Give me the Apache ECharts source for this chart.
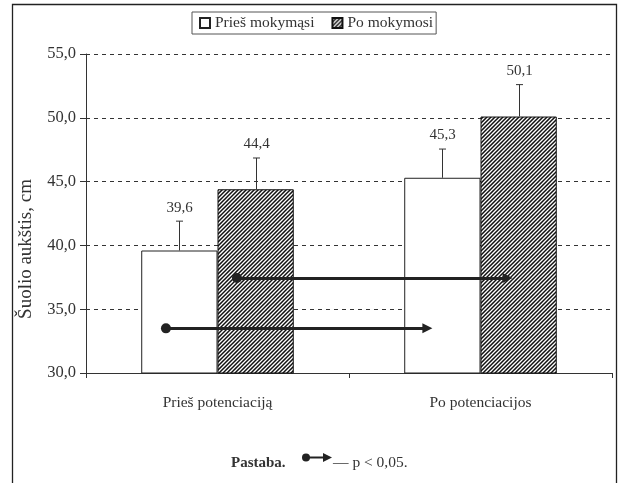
<!DOCTYPE html>
<html>
<head>
<meta charset="utf-8">
<script src="https://cdn.jsdelivr.net/npm/echarts@6/dist/echarts.min.js"></script>
<style>
  html, body { margin: 0; padding: 0; background: #fff; }
  #chart { width: 619px; height: 483px; }
</style>
</head>
<body>
<div id="chart"></div>
<script>
// Jump height before and after training, by potentiation condition
var categories = ['Prieš potenciaciją', 'Po potenciacijos'];
var seriesNames = ['Prieš mokymąsi', 'Po mokymosi'];
var beforeTraining = [39.6, 45.3];
var afterTraining = [44.4, 50.1];
var beforeSD = [2.3, 2.25];
var afterSD = [2.45, 2.5];
var yTicks = [30, 35, 40, 45, 50, 55];
var yTitle = 'Šuolio aukštis, cm';
// significance arrows: [xStart, xEnd, y] in category units (0..2) and cm
var sigArrows = [
  [0.304, 1.298, 33.5],
  [0.574, 1.603, 37.45]
];

var FONT = '"Liberation Serif", "Times New Roman", serif';
var TXT = '#333';

function fmt(v) { return v.toFixed(1).replace('.', ','); }

// diagonal hatch fill
function hatch() {
  var c = document.createElement('canvas');
  c.width = 8; c.height = 8;
  var g = c.getContext('2d');
  g.fillStyle = '#fff';
  g.fillRect(0, 0, 8, 8);
  g.strokeStyle = '#111';
  g.lineWidth = 1.5;
  for (var k = 0; k <= 16; k += 4) {
    g.beginPath();
    g.moveTo(-1, k + 1);
    g.lineTo(k + 1, -1);
    g.stroke();
  }
  return c;
}

var GAP = 0.42;
function errorSeries(vals, sds, side) {
  return {
    type: 'custom',
    xAxisIndex: 0,
    yAxisIndex: 0,
    z: 5,
    silent: true,
    data: vals.map(function (v, i) { return [i, v, sds[i]]; }),
    renderItem: function (params, api) {
      var band = api.size([1, 0])[0];
      var off = side * band * (1 - GAP) / 4;
      var base = api.coord([api.value(0), api.value(1)]);
      var top = api.coord([api.value(0), api.value(1) + api.value(2)]);
      var x = Math.round(base[0] + off) + 0.5;
      return {
        type: 'group',
        children: [
          { type: 'line', shape: { x1: x, y1: base[1], x2: x, y2: top[1] },
            style: { stroke: '#333', lineWidth: 1 } },
          { type: 'line', shape: { x1: x - 3.5, y1: top[1], x2: x + 3.5, y2: top[1] },
            style: { stroke: '#333', lineWidth: 1 } },
          { type: 'text', x: x, y: top[1] - 6,
            style: { text: fmt(api.value(1)), fill: TXT, font: '15px ' + FONT,
                     align: 'center', verticalAlign: 'bottom' } }
        ]
      };
    }
  };
}

var chart = echarts.init(document.getElementById('chart'), null, { renderer: 'canvas' });

var option = {
  animation: false,
  backgroundColor: '#fff',
  textStyle: { fontFamily: FONT, color: TXT },
  grid: { left: 86, right: 7, top: 54, bottom: 110, containLabel: false },
  legend: {
    left: 192, top: 12,
    data: seriesNames,
    icon: 'rect',
    itemWidth: 10, itemHeight: 10, itemGap: 17,
    padding: [3, 3, 3, 7],
    borderColor: '#555', borderWidth: 1,
    textStyle: { fontFamily: FONT, fontSize: 15.5, color: TXT }
  },
  xAxis: [
    {
      type: 'category',
      data: categories,
      axisLine: { lineStyle: { color: '#333', width: 1 } },
      axisTick: { show: true, length: 5, lineStyle: { color: '#333' } },
      axisLabel: { fontFamily: FONT, fontSize: 15.5, color: TXT, margin: 22 },
      splitLine: { show: false }
    },
    { type: 'value', min: 0, max: 2, show: false }
  ],
  yAxis: {
    type: 'value',
    min: yTicks[0], max: yTicks[yTicks.length - 1], interval: 5,
    axisLine: { show: true, lineStyle: { color: '#333', width: 1 } },
    axisTick: { show: true, length: 6, lineStyle: { color: '#333' } },
    axisLabel: { fontFamily: FONT, fontSize: 16.5, color: TXT, margin: 10, formatter: fmt },
    splitLine: { show: true, lineStyle: { color: '#333', type: [4, 4], width: 1 } }
  },
  series: [
    {
      name: seriesNames[0], type: 'bar',
      data: beforeTraining,
      barGap: '0%', barCategoryGap: (GAP * 100) + '%',
      itemStyle: { color: '#fff', borderColor: '#222', borderWidth: 1 }
    },
    {
      name: seriesNames[1], type: 'bar',
      data: afterTraining,
      itemStyle: { color: { image: hatch(), repeat: 'repeat' }, borderColor: '#111', borderWidth: 1 }
    },
    errorSeries(beforeTraining, beforeSD, -1),
    errorSeries(afterTraining, afterSD, 1),
    {
      type: 'line',
      xAxisIndex: 1, yAxisIndex: 0,
      data: [],
      z: 10,
      markLine: {
        silent: true,
        symbol: ['circle', 'triangle'],
        symbolSize: [10, 10],
        label: { show: false },
        lineStyle: { color: '#222', width: 3, type: 'solid' },
        itemStyle: { color: '#222' },
        data: sigArrows.map(function (a) {
          return [{ coord: [a[0], a[2]] }, { coord: [a[1], a[2]] }];
        })
      }
    }
  ],
  graphic: [
    { type: 'rect', z: 100, silent: true,
      shape: { x: 12.5, y: 4.5, width: 604, height: 500 },
      style: { fill: 'none', stroke: '#222', lineWidth: 1.3 } },
    { type: 'text', x: 26, y: 249, rotation: Math.PI / 2,
      style: { text: yTitle, font: '19px ' + FONT, fill: TXT,
               align: 'center', verticalAlign: 'middle' } },
    { type: 'text', x: 231, y: 463,
      style: { text: 'Pastaba.', font: 'bold 15px ' + FONT, fill: TXT, verticalAlign: 'middle' } },
    { type: 'circle', shape: { cx: 306, cy: 457.5, r: 4 }, style: { fill: '#222' } },
    { type: 'line', shape: { x1: 306, y1: 457.5, x2: 324, y2: 457.5 },
      style: { stroke: '#222', lineWidth: 2 } },
    { type: 'polygon', shape: { points: [[323, 453], [332, 457.5], [323, 462]] },
      style: { fill: '#222' } },
    { type: 'text', x: 333, y: 463,
      style: { text: '— p < 0,05.', font: '15.5px ' + FONT, fill: TXT, verticalAlign: 'middle' } }
  ]
};

chart.setOption(option);
</script>
</body>
</html>
